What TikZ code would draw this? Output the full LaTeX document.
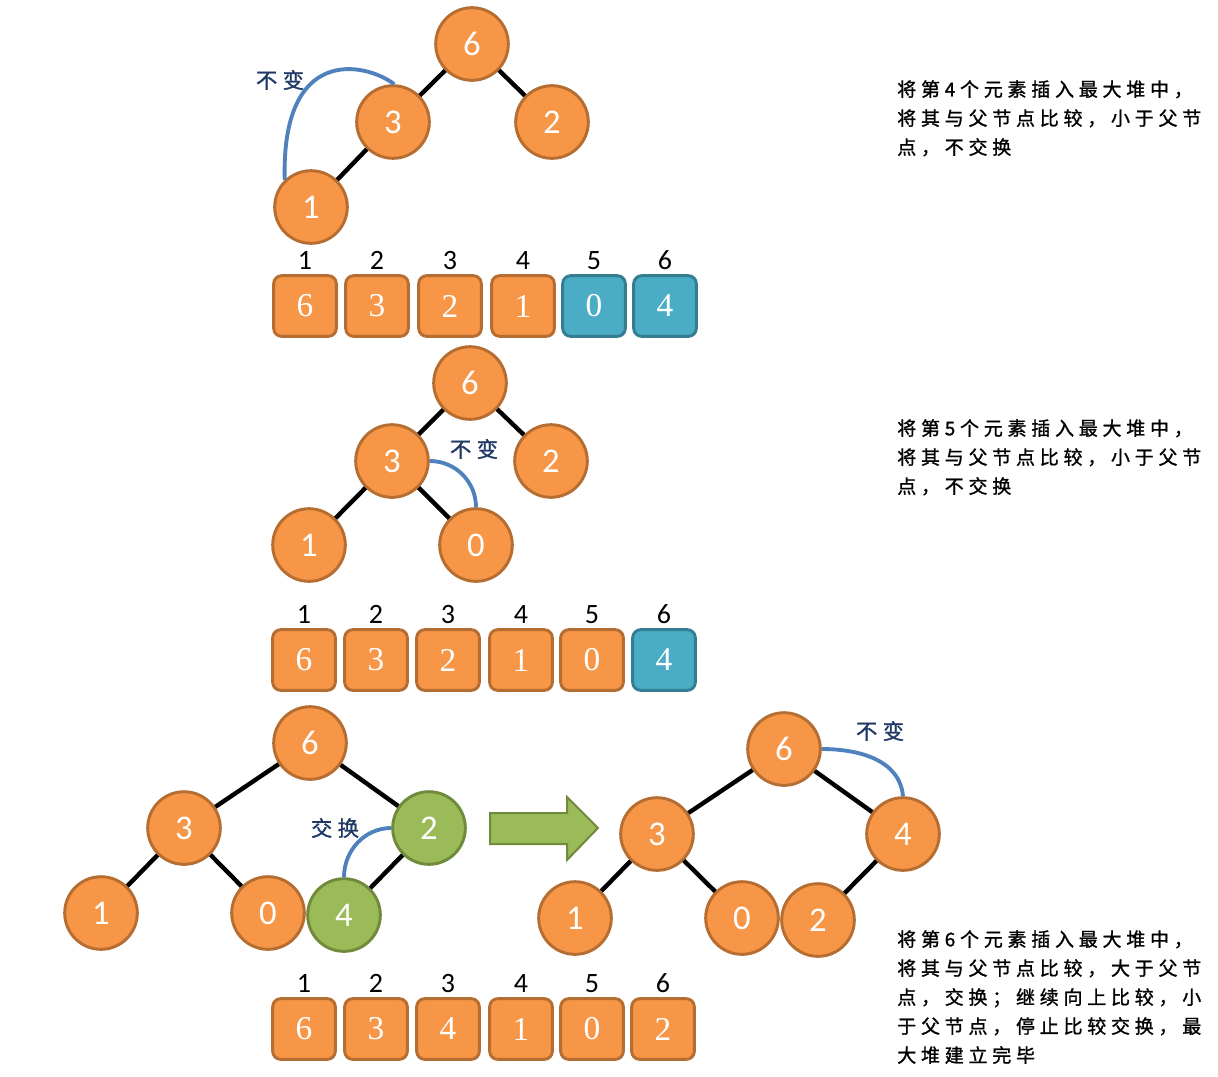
\documentclass[tikz,border=0pt]{standalone}
\usepackage{fontspec}
\newfontfamily\numfont{Carlito}
\newfontfamily\cellfont{Liberation Serif}
\newfontfamily\cjk[LetterSpace=25, FakeBold=1.2]{Noto Sans CJK SC}
\definecolor{orfill}{HTML}{F79646}
\definecolor{ordraw}{HTML}{B66D31}
\definecolor{grfill}{HTML}{9BBB59}
\definecolor{grdraw}{HTML}{6F8A3A}
\definecolor{blfill}{HTML}{4BACC6}
\definecolor{bldraw}{HTML}{357D91}
\definecolor{arcblue}{HTML}{4F81BD}
\definecolor{navy}{HTML}{1F3864}

\begin{document}
\begin{tikzpicture}[x=0.75pt, y=-0.75pt,
  ball/.style={circle, fill=orfill, draw=ordraw, line width=2.2pt, minimum size=54.5pt, inner sep=0pt, text=white, font=\numfont\fontsize{26}{26}\selectfont},
  gball/.style={ball, fill=grfill, draw=grdraw},
  cell/.style={rectangle, rounded corners=6pt, fill=orfill, draw=ordraw, line width=2.2pt, minimum width=47pt, minimum height=45.5pt, inner sep=0pt, text=white, font=\cellfont\fontsize{25}{25}\selectfont},
  bcell/.style={cell, fill=blfill, draw=bldraw},
  idx/.style={font=\numfont\fontsize{21}{21}\selectfont, inner sep=3.5pt},
  edge/.style={line width=3.3pt},
  arc/.style={arcblue, line width=2.9pt},
  note/.style={text=navy, font=\cjk\fontsize{16}{16}\selectfont},
  txt/.style={anchor=north west, inner sep=0pt, align=left, font=\cjk\fontsize{14.25}{21.75}\selectfont}]
\useasboundingbox (0,0) rectangle (1218,1076);
% step 4
\node[ball] (asix) at (472,44) {6};
\node[ball] (athree) at (393,122) {3};
\node[ball] (atwo) at (552,122) {2};
\node[ball] (aone) at (311,207) {1};
\draw[edge] (asix)--(athree) (asix)--(atwo) (athree)--(aone);
\draw[arc] (aone.134) .. controls (281,45) and (365,62) .. (athree.88);
\node[note] at (280,80) {不变};
\foreach \v/\s/\x [count=\i] in {6/cell/305,3/cell/377,2/cell/450,1/cell/523,0/bcell/594,4/bcell/665}
  \node[\s, label={[idx]above:\i}] (ra\i) at (\x,306) {\v};
\node[txt] (texta) at (897,80) {将第4个元素插入最大堆中，\\将其与父节点比较，小于父节\\点，不交换};
% step 5
\node[ball] (bsix) at (470,383) {6};
\node[ball] (bthree) at (392,461) {3};
\node[ball] (btwo) at (551,461) {2};
\node[ball] (bone) at (309,545) {1};
\node[ball] (bzero) at (476,545) {0};
\draw[edge] (bsix)--(bthree) (bsix)--(btwo) (bthree)--(bone) (bthree)--(bzero);
\draw[arc] (bthree.east) to[out=0, in=90] (bzero.north);
\node[note] at (474,449) {不变};
\foreach \v/\s/\x [count=\i] in {6/cell/304,3/cell/376,2/cell/448,1/cell/521,0/cell/592,4/bcell/664}
  \node[\s, label={[idx]above:\i}] (rb\i) at (\x,660) {\v};
\node[txt] (textb) at (897,419) {将第5个元素插入最大堆中，\\将其与父节点比较，小于父节\\点，不交换};
% step 6
\node[ball] (csix) at (310,743) {6};
\node[ball] (cthree) at (184,828) {3};
\node[gball] (ctwo) at (429,828) {2};
\node[ball] (cone) at (101,913) {1};
\node[ball] (czero) at (268,913) {0};
\node[gball] (cfour) at (344,915) {4};
\draw[edge] (csix)--(cthree) (csix)--(ctwo) (cthree)--(cone) (cthree)--(czero) (ctwo)--(cfour);
\draw[arc] (ctwo.west) to[out=180, in=90] (cfour.north);
\node[note] at (335,828) {交换};
\draw[fill=grfill, draw=grdraw, line width=1.5pt] (490,813)--(567,813)--(567,797)--(598,828)--(567,860)--(567,844)--(490,844)--cycle;
\node[ball] (dsix) at (784,749) {6};
\node[ball] (dthree) at (657,834) {3};
\node[ball] (dfour) at (903,834) {4};
\node[ball] (done) at (575,918) {1};
\node[ball] (dzero) at (742,918) {0};
\node[ball] (dtwo) at (818,920) {2};
\draw[edge] (dsix)--(dthree) (dsix)--(dfour) (dthree)--(done) (dthree)--(dzero) (dfour)--(dtwo);
\draw[arc] (dsix.east) to[out=0, in=95] (dfour.north);
\node[note] at (880,731) {不变};
\foreach \v/\x [count=\i] in {6/304,3/376,4/448,1/521,0/592,2/663}
  \node[cell, label={[idx]above:\i}] (rc\i) at (\x,1029) {\v};
\node[txt] (textc) at (897,930) {将第6个元素插入最大堆中，\\将其与父节点比较，大于父节\\点，交换；继续向上比较，小\\于父节点，停止比较交换，最\\大堆建立完毕};
\end{tikzpicture}
\end{document}
